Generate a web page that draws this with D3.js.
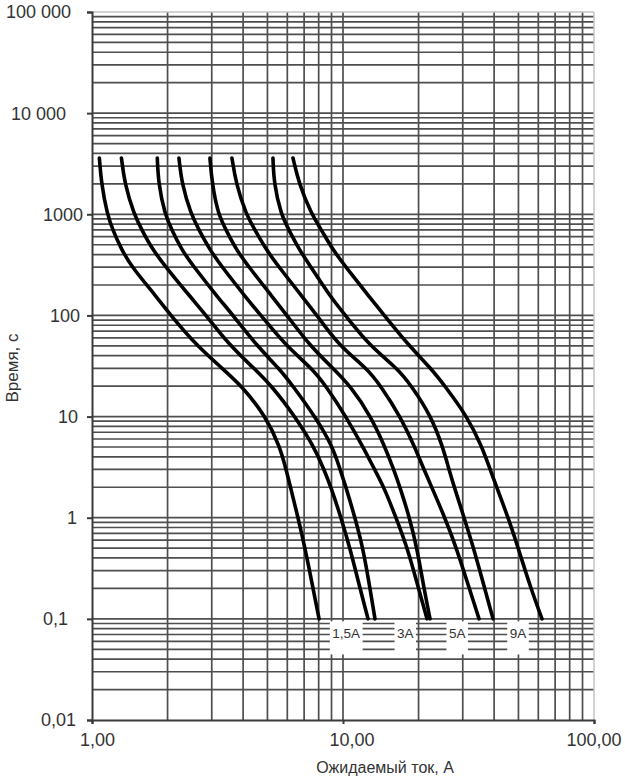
<!DOCTYPE html>
<html><head><meta charset="utf-8">
<script src="https://cdn.jsdelivr.net/npm/d3@7"></script>
<style>body{margin:0;background:#fff}</style>
</head><body><svg id="c" width="625" height="780"></svg>
<script>
// time levels (s) shared by all curves
const times = [3600, 2000, 1000, 700, 450, 300, 150, 100, 50, 30, 20, 10, 5, 3, 2, 1, 0.5, 0.2, 0.1];
// current (A) of each curve at those times
const curve1 = [1.07, 1.09, 1.15, 1.21, 1.31, 1.44, 1.82, 2.06, 2.62, 3.30, 3.96, 4.93, 5.61, 5.93, 6.18, 6.62, 7.06, 7.60, 8.03];
const curve2 = [1.31, 1.35, 1.47, 1.58, 1.74, 1.97, 2.48, 2.85, 3.55, 4.42, 5.21, 6.44, 7.67, 8.40, 8.96, 9.82, 10.66, 11.69, 12.58];
const curve3 = [1.82, 1.84, 1.95, 2.08, 2.27, 2.55, 3.18, 3.65, 4.54, 5.56, 6.32, 7.74, 9.12, 9.73, 10.28, 11.16, 12.02, 12.81, 13.41];
const curve4 = [2.22, 2.28, 2.48, 2.67, 2.94, 3.30, 4.11, 4.71, 5.93, 7.52, 8.56, 10.28, 12.02, 13.35, 14.57, 16.26, 18.07, 19.99, 21.61];
const curve5 = [2.95, 3.01, 3.18, 3.42, 3.75, 4.22, 5.26, 5.98, 7.39, 9.12, 10.71, 12.93, 14.70, 15.92, 16.87, 18.41, 19.72, 21.02, 22.22];
const curve6 = [3.61, 3.75, 4.11, 4.46, 4.93, 5.56, 6.93, 7.88, 9.64, 12.46, 14.15, 16.93, 19.31, 21.02, 22.57, 25.47, 28.33, 31.86, 34.83];
const curve7 = [5.26, 5.31, 5.66, 6.09, 6.68, 7.46, 8.96, 10.22, 12.78, 16.46, 18.78, 22.48, 24.98, 26.44, 27.76, 30.38, 33.14, 36.69, 39.60];
const curve8 = [6.32, 6.68, 7.49, 8.21, 9.08, 10.28, 12.81, 14.62, 18.33, 22.40, 25.49, 31.28, 35.84, 38.56, 40.97, 45.51, 49.89, 56.01, 62.07];
const curves = [curve1, curve2, curve3, curve4, curve5, curve6, curve7, curve8];

const ratingLabels = ["1,5A", "3A", "5A", "9A"];
const ratingLabelCurrents = [10.3, 17.7, 28.5, 49.8];
const ratingLabelTime = 0.072;

const yTicks = [0.01, 0.1, 1, 10, 100, 1000, 10000, 100000];
const yTickLabels = ["0,01", "0,1", "1", "10", "100", "1000", "10 000", "100 000"];
const xTicks = [1, 10, 100];
const xTickLabels = ["1,00", "10,00", "100,00"];
const xTitle = "Ожидаемый ток, А";
const yTitle = "Время, с";

const svg = d3.select("#c");
const L = 92, R = 594, T = 12, B = 720;
const x = d3.scaleLog().domain([1, 100]).range([L, R]);
const y = d3.scaleLog().domain([0.01, 100000]).range([B, T]);

const gridCol = "#4e4e4e";
const xGrid = [];
for (let e = 0; e < 2; e++) for (let k = 1; k <= 9; k++) xGrid.push(k * Math.pow(10, e));
const yGrid = [];
for (let e = -2; e < 5; e++) for (let k = 1; k <= 9; k++) yGrid.push(+(k * Math.pow(10, e)).toPrecision(3));

const g = svg.append("g");
g.selectAll("line.h").data(yGrid.filter(v => v > 0.01)).enter().append("line")
  .attr("x1", L).attr("x2", R).attr("y1", d => y(d)).attr("y2", d => y(d))
  .attr("stroke", gridCol).attr("stroke-width", 1.7);
g.selectAll("line.v").data(xGrid.filter(v => v > 1)).enter().append("line")
  .attr("y1", T).attr("y2", B).attr("x1", d => x(d)).attr("x2", d => x(d))
  .attr("stroke", gridCol).attr("stroke-width", 1.7);

svg.append("line").attr("x1", L).attr("x2", R).attr("y1", T).attr("y2", T).attr("stroke", "#c4c4c4").attr("stroke-width", 1.5);
svg.append("line").attr("x1", R).attr("x2", R).attr("y1", T).attr("y2", B).attr("stroke", "#c4c4c4").attr("stroke-width", 1.5);

const yAxis = d3.axisLeft(y).tickValues(yTicks).tickSize(5).tickFormat("");
const ya = svg.append("g").attr("transform", `translate(${L},0)`).call(yAxis);
ya.select(".domain").attr("stroke", "#3a3a3a").attr("stroke-width", 2);
ya.selectAll(".tick line").attr("stroke", "#3a3a3a").attr("stroke-width", 2);
const xAxis = d3.axisBottom(x).tickValues(xTicks).tickSize(4).tickFormat("");
const xa = svg.append("g").attr("transform", `translate(0,${B})`).call(xAxis);
xa.select(".domain").attr("stroke", "#3a3a3a").attr("stroke-width", 2);
xa.selectAll(".tick line").attr("stroke", "#3a3a3a").attr("stroke-width", 2);

const font = "'Liberation Sans', Arial, sans-serif";
const textCol = "#333";
// right edges of the y tick labels as they sit in the original (layout, not data)
const yLabelRightEdge = [76, 68, 77, 78, 80, 83, 66, 71];
svg.selectAll("text.yl").data(yTicks).enter().append("text")
  .attr("x", (d, i) => yLabelRightEdge[i]).attr("y", d => y(d)).attr("dy", "0.36em")
  .attr("text-anchor", "end").attr("font-family", font).attr("font-size", 18)
  .attr("fill", textCol).text((d, i) => yTickLabels[i]);
const xLabelShift = [5.5, 9, 0];
svg.selectAll("text.xl").data(xTicks).enter().append("text")
  .attr("x", (d, i) => x(d) + xLabelShift[i]).attr("y", 745.5)
  .attr("text-anchor", "middle").attr("font-family", font).attr("font-size", 18)
  .attr("fill", textCol).text((d, i) => xTickLabels[i]);
svg.append("text").attr("x", 385).attr("y", 773).attr("text-anchor", "middle")
  .attr("font-family", font).attr("font-size", 16).attr("fill", textCol).text(xTitle);
svg.append("text").attr("transform", "translate(18,368) rotate(-90)").attr("text-anchor", "middle")
  .attr("font-family", font).attr("font-size", 17).attr("fill", textCol).text(yTitle);

const lab = svg.append("g");
ratingLabels.forEach((s, i) => {
  const t = lab.append("text").attr("x", x(ratingLabelCurrents[i])).attr("y", y(ratingLabelTime)).attr("dy", "0.36em")
    .attr("text-anchor", "middle").attr("font-family", font).attr("font-size", 13.5).attr("fill", textCol).text(s);
  const bb = t.node().getBBox();
  lab.insert("rect", "text").attr("x", bb.x - 2.5).attr("y", y(0.1) + 2.5).attr("width", bb.width + 5)
    .attr("height", y(0.045) - y(0.1) - 2).attr("fill", "#fff");
});

const line = d3.line().x(d => x(d[0])).y(d => y(d[1])).curve(d3.curveBasis);
svg.selectAll("path.c").data(curves).enter().append("path")
  .attr("d", c => line(c.map((v, i) => [v, times[i]])))
  .attr("fill", "none").attr("stroke", "#000").attr("stroke-width", 3.6)
  .attr("stroke-linecap", "round").attr("stroke-linejoin", "round");
</script></body></html>
